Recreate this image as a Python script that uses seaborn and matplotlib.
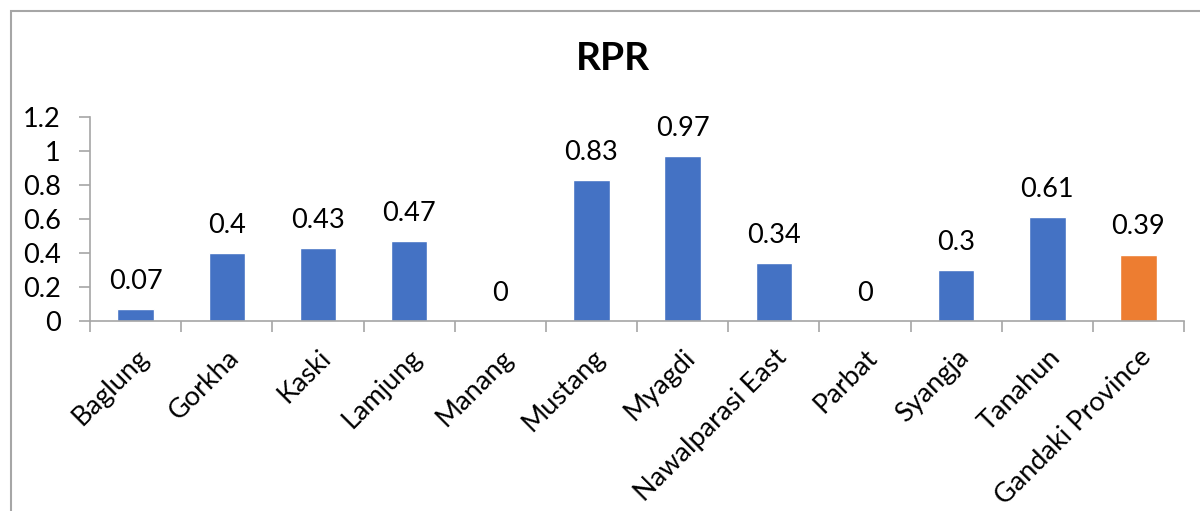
import matplotlib
matplotlib.use("Agg")
import matplotlib.pyplot as plt
import seaborn as sns
import pandas as pd
from matplotlib.patches import Rectangle
from matplotlib.ticker import FixedLocator

districts = ["Baglung", "Gorkha", "Kaski", "Lamjung", "Manang", "Mustang",
             "Myagdi", "Nawalparasi East", "Parbat", "Syangja", "Tanahun",
             "Gandaki Province"]
rpr = [0.07, 0.4, 0.43, 0.47, 0, 0.83, 0.97, 0.34, 0, 0.3, 0.61, 0.39]
labels = ["0.07", "0.4", "0.43", "0.47", "0", "0.83", "0.97", "0.34", "0",
          "0.3", "0.61", "0.39"]
yticks = [0, 0.2, 0.4, 0.6, 0.8, 1, 1.2]
ytick_labels = ["0", "0.2", "0.4", "0.6", "0.8", "1", "1.2"]

sns.set_style("white")
plt.rcParams["font.family"] = ["Lato", "DejaVu Sans"]

df = pd.DataFrame({"district": districts, "rpr": rpr})
palette = ["#4472C4"] * (len(districts) - 1) + ["#ED7D31"]

fig = plt.figure(figsize=(12, 5.11), dpi=100)
ax = fig.add_axes([0.075, 0.3718, 0.9117, 0.3992])

sns.barplot(data=df, x="district", y="rpr", hue="district", palette=palette,
            width=0.4, legend=False, ax=ax, saturation=1)

ax.set_ylim(0, 1.2)
ax.set_xlim(-0.5, len(districts) - 0.5)
ax.set_yticks(yticks)
ax.set_yticklabels(ytick_labels, fontsize=19.5, color="black")
ax.set_xticks(range(len(districts)))
ax.set_xticklabels(districts, fontsize=19.5, rotation=45, ha="right",
                   rotation_mode="anchor", color="black")
ax.set_xlabel("")
ax.set_ylabel("")

# category separators below the axis
ax.xaxis.set_minor_locator(FixedLocator([i - 0.5 for i in range(len(districts) + 1)]))
ax.tick_params(axis="x", which="major", length=0, pad=17)
ax.tick_params(axis="x", which="minor", length=8, color="#A6A6A6", width=1.2, bottom=True)
ax.tick_params(axis="y", length=8, color="#A6A6A6", width=1.2, left=True, pad=13)

for side in ["top", "right"]:
    ax.spines[side].set_visible(False)
for side in ["left", "bottom"]:
    ax.spines[side].set_color("#A6A6A6")
    ax.spines[side].set_linewidth(1.2)

for i, (v, t) in enumerate(zip(rpr, labels)):
    ax.annotate(t, (i, v), xytext=(0, 11), textcoords="offset points",
                ha="center", va="bottom", fontsize=19.5, color="black")

fig.text(0.511, 0.885, "RPR", ha="center", va="center", fontsize=28,
         fontweight="bold", color="black")

# outer chart frame
fig.patches.append(Rectangle((0.0095, -0.05), 1.2, 0.05 + 0.978,
                             transform=fig.transFigure, fill=False,
                             edgecolor="#A6A6A6", linewidth=1.5))

fig.savefig("out.png", dpi=100)
